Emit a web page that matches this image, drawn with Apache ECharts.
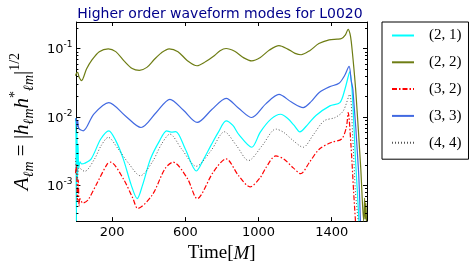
<!DOCTYPE html>
<html>
<head>
<meta charset="utf-8">
<script src="https://cdn.jsdelivr.net/npm/echarts@6/dist/echarts.min.js"></script>
<style>html,body{margin:0;padding:0;background:#fff}#c{width:473px;height:268px}</style>
</head>
<body>
<div id="c"></div>
<script>
// ---- data (time in M, amplitude A_lm) ----
const xTicks = [200, 600, 1000, 1400];
const seriesNames = ['(2, 1)', '(2, 2)', '(3, 2)', '(3, 3)', '(4, 4)'];

const t21 = [0, 2, 5, 8, 11, 14, 18, 25, 33, 50, 86, 138, 182, 220, 261, 305, 337, 366, 410, 460, 498, 523, 548, 600, 661, 700, 744, 781, 823, 860, 893, 963, 1010, 1068, 1121, 1160, 1195, 1226, 1270, 1314, 1390, 1445, 1472, 1498, 1533, 1549];
const a21 = [0.0095, 0.009, 0.0003, 0.006, 0.0012, 0.004, 0.0018, 0.0022, 0.00206, 0.0021, 0.00244, 0.00475, 0.00627, 0.0045, 0.00244, 0.001, 0.00064, 0.001, 0.00244, 0.0045, 0.00627, 0.0060, 0.0061, 0.0034, 0.00162, 0.0024, 0.0040, 0.0060, 0.00875, 0.0075, 0.0055, 0.0036, 0.0060, 0.00927, 0.01094, 0.0095, 0.0075, 0.00606, 0.0078, 0.0105, 0.0145, 0.0162, 0.0252, 0.0455, 0.00175, 0.0003];

const t22 = [0, 7, 12, 20, 33, 60, 90, 130, 179, 220, 265, 310, 349, 390, 430, 470, 512, 560, 610, 664, 710, 760, 790, 823, 870, 920, 963, 1010, 1060, 1112, 1160, 1200, 1233, 1280, 1330, 1386, 1430, 1454, 1475, 1490, 1500, 1507, 1521, 1533, 1559, 1575, 1580, 1583, 1587, 1590];
const a22 = [0.040, 0.044, 0.045, 0.038, 0.034, 0.050, 0.068, 0.090, 0.099, 0.090, 0.066, 0.051, 0.048, 0.053, 0.069, 0.087, 0.099, 0.090, 0.067, 0.056, 0.064, 0.079, 0.093, 0.100, 0.091, 0.073, 0.066, 0.074, 0.095, 0.110, 0.098, 0.085, 0.081, 0.093, 0.118, 0.134, 0.137, 0.140, 0.158, 0.191, 0.165, 0.126, 0.0525, 0.0213, 0.00175, 0.0003, 0.00065, 0.00032, 0.00055, 0.0003];

const t32 = [0, 5, 10, 15, 20, 24, 40, 68, 121, 174, 191, 261, 314, 340, 419, 489, 533, 612, 665, 753, 823, 890, 954, 1010, 1040, 1095, 1140, 1190, 1230, 1280, 1333, 1400, 1454, 1480, 1490, 1505, 1520, 1530];
const a32 = [0.0015, 0.002, 0.0006, 0.0012, 0.0005, 0.00064, 0.00055, 0.00061, 0.00112, 0.00206, 0.00218, 0.00125, 0.00064, 0.00046, 0.00072, 0.00175, 0.00218, 0.00125, 0.00064, 0.00156, 0.00244, 0.0014, 0.00095, 0.0013, 0.0018, 0.0027, 0.0024, 0.0018, 0.00148, 0.0022, 0.0034, 0.00426, 0.00475, 0.007, 0.0116, 0.004, 0.0008, 0.0003];

const t33 = [0, 3, 8, 12, 18, 42, 100, 182, 270, 358, 440, 516, 590, 665, 745, 823, 890, 963, 1040, 1112, 1180, 1244, 1290, 1332, 1387, 1440, 1470, 1495, 1507, 1516, 1546, 1557];
const a33 = [0.0088, 0.0095, 0.0072, 0.0088, 0.0068, 0.00627, 0.011, 0.0162, 0.0105, 0.0070, 0.0115, 0.0181, 0.0125, 0.0083, 0.0128, 0.0187, 0.0135, 0.0098, 0.0155, 0.0213, 0.0165, 0.0137, 0.017, 0.0228, 0.0275, 0.031, 0.040, 0.0548, 0.0333, 0.0252, 0.00175, 0.0003];

const t44 = [0, 10, 20, 50, 103, 140, 179, 230, 290, 354, 420, 470, 516, 580, 660, 740, 814, 880, 945, 1020, 1095, 1138, 1190, 1244, 1300, 1358, 1419, 1463, 1498, 1515, 1530, 1545];
const a44 = [0.0025, 0.0012, 0.0018, 0.0016, 0.0024, 0.0038, 0.00503, 0.0035, 0.0021, 0.00138, 0.0022, 0.0040, 0.0056, 0.0034, 0.0019, 0.0032, 0.00606, 0.0038, 0.0023, 0.0038, 0.00664, 0.00594, 0.0045, 0.0036, 0.0055, 0.00875, 0.0098, 0.0122, 0.0213, 0.005, 0.0008, 0.0003];

const XMIN = 5, XMAX = 1593, YMIN = 3e-4, YMAX = 0.244;

// ---- build ----
const zip = (t, a) => t.map((v, i) => [v, a[i]]);
const minorVals = [];
for (let e = -4; e <= -1; e++) for (let k = 2; k <= 9; k++) {
  const v = k * Math.pow(10, e);
  if (v > YMIN && v < YMAX) minorVals.push(v);
}
const colors = ['#00ffff', '#6e7d14', '#ff0000', '#4169e1', '#555555'];
const widths = [1.2, 1.2, 1.2, 1.2, 1];
const dashes = ['solid', 'solid', [5, 2, 1.5, 2], 'solid', [1, 2]];
const datasets = [zip(t21, a21), zip(t22, a22), zip(t32, a32), zip(t33, a33), zip(t44, a44)];

const lineSeries = seriesNames.map((n, i) => ({
  name: n, type: 'line', data: datasets[i], symbol: 'none', showSymbol: false,
  smooth: 0.3, clip: true, z: 3 + (i === 1 ? 0 : 1),
  lineStyle: { color: colors[i], width: widths[i], type: dashes[i] },
  itemStyle: { color: colors[i] }
}));

const minorSeries = {
  type: 'custom', silent: true, z: 20, clip: false,
  data: minorVals.map(v => [XMIN, v]),
  renderItem: (params, api) => {
    const p = api.coord([api.value(0), api.value(1)]);
    const cs = params.coordSys;
    const y = Math.round(p[1]) + 0.5;
    return { type: 'group', children: [
      { type: 'line', shape: { x1: cs.x, y1: y, x2: cs.x + 2, y2: y }, style: { stroke: '#000', lineWidth: 1 } },
      { type: 'line', shape: { x1: cs.x + cs.width - 2, y1: y, x2: cs.x + cs.width, y2: y }, style: { stroke: '#000', lineWidth: 1 } }
    ]};
  }
};

const axisLine = { show: true, onZero: false, lineStyle: { color: '#000', width: 1 } };
const expFmt = v => '{b|10}{s|' + Math.round(Math.log10(v)) + '}';

const option = {
  animation: false,
  backgroundColor: '#fff',
  title: {
    text: 'Higher order waveform modes for L0020', left: 215, top: 2, textAlign: 'center',
    textStyle: { fontFamily: 'DejaVu Sans', fontSize: 14, fontWeight: 'normal', color: '#00008b' }
  },
  legend: {
    data: seriesNames, orient: 'vertical', left: 382, top: 22,
    padding: [6, 7, 9, 9], itemWidth: 22, itemHeight: 10, itemGap: 11.8,
    borderColor: '#000', borderWidth: 1, backgroundColor: '#fff',
    itemStyle: { opacity: 0, borderWidth: 0 },
    textStyle: { fontFamily: 'Liberation Serif', fontSize: 15, color: '#000', padding: [0, 0, 0, 10] }
  },
  grid: { left: 64, right: 106, top: 22, bottom: 45, containLabel: false },
  xAxis: [{
    type: 'value', min: XMIN, max: XMAX, position: 'bottom',
    axisLine,
    axisTick: { show: true, inside: true, length: 4, customValues: xTicks, lineStyle: { color: '#000' } },
    axisLabel: { customValues: xTicks, formatter: v => String(v), fontFamily: 'DejaVu Sans', fontSize: 13, color: '#000', margin: 5 },
    splitLine: { show: false },
    name: '{r|Time}{r|[}{i|M}{r|]}', nameLocation: 'middle', nameGap: 15,
    nameTextStyle: { rich: {
      r: { fontFamily: 'Liberation Serif', fontSize: 19, color: '#000' },
      i: { fontFamily: 'Liberation Serif', fontSize: 19, fontStyle: 'italic', color: '#000' }
    } }
  }, {
    type: 'value', min: XMIN, max: XMAX, position: 'top',
    axisLine,
    axisTick: { show: true, inside: true, length: 4, customValues: xTicks, lineStyle: { color: '#000' } },
    axisLabel: { show: false }, splitLine: { show: false }
  }],
  yAxis: [{
    type: 'log', logBase: 10, min: YMIN, max: YMAX, position: 'left',
    axisLine,
    axisTick: { show: true, inside: true, length: 4, lineStyle: { color: '#000' } },
    axisLabel: {
      formatter: expFmt, showMinLabel: false, showMaxLabel: false, margin: 4,
      rich: {
        b: { fontFamily: 'DejaVu Sans', fontSize: 13, color: '#000', lineHeight: 16, verticalAlign: 'bottom' },
        s: { fontFamily: 'DejaVu Sans', fontSize: 9, color: '#000', lineHeight: 9, verticalAlign: 'top' }
      }
    },
    splitLine: { show: false },
    name: '{i|A}{sub|ℓm}{r| = |}{i|h}{sub|ℓm}{i|h}{sup|*}{sub|ℓm}{r||}{sup|1/2}',
    nameLocation: 'middle', nameGap: 34, nameRotate: 90,
    nameTextStyle: { rich: {
      i: { fontFamily: 'Liberation Serif', fontSize: 21, fontStyle: 'italic', color: '#000', lineHeight: 28, verticalAlign: 'middle' },
      r: { fontFamily: 'Liberation Serif', fontSize: 21, color: '#000', lineHeight: 28, verticalAlign: 'middle' },
      sub: { fontFamily: 'Liberation Serif', fontSize: 14, fontStyle: 'italic', color: '#000', lineHeight: 14, verticalAlign: 'bottom' },
      sup: { fontFamily: 'Liberation Serif', fontSize: 14, color: '#000', lineHeight: 14, verticalAlign: 'top' }
    } }
  }, {
    type: 'log', logBase: 10, min: YMIN, max: YMAX, position: 'right',
    axisLine,
    axisTick: { show: true, inside: true, length: 4, lineStyle: { color: '#000' } },
    axisLabel: { show: false }, splitLine: { show: false }
  }],
  series: lineSeries.concat([minorSeries])
};

echarts.init(document.getElementById('c'), null, { renderer: 'canvas' }).setOption(option);
</script>
</body>
</html>
